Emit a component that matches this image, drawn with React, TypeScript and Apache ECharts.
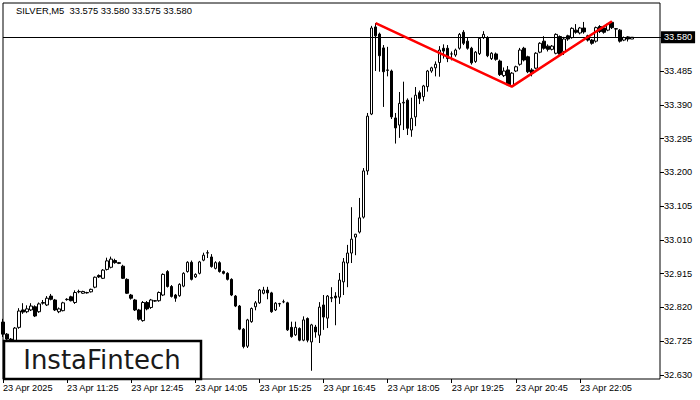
import React, { useEffect, useRef } from "react";
import * as echarts from "echarts";

const titleText = "SILVER,M5  33.575 33.580 33.575 33.580";
const logoText = "InstaFintech";
const lastPrice = 33.58;

const opens = [
  32.779, 32.745, 32.731, 32.722, 32.764, 32.813, 32.808, 32.813, 32.822, 32.808,
  32.832, 32.827, 32.852, 32.841, 32.808, 32.811, 32.842, 32.850, 32.834, 32.864,
  32.860, 32.862, 32.864, 32.877, 32.910, 32.902, 32.927, 32.933, 32.952, 32.946,
  32.936, 32.899, 32.855, 32.841, 32.813, 32.783, 32.834, 32.820, 32.839, 32.839,
  32.855, 32.921, 32.879, 32.855, 32.853, 32.880, 32.921, 32.947, 32.906, 32.916,
  32.953, 32.973, 32.962, 32.930, 32.946, 32.921, 32.916, 32.899, 32.852, 32.824,
  32.759, 32.711, 32.780, 32.822, 32.833, 32.860, 32.869, 32.861, 32.813, 32.830,
  32.836, 32.833, 32.764, 32.743, 32.761, 32.728, 32.789, 32.723, 32.765, 32.742,
  32.827, 32.790, 32.846, 32.852, 32.849, 32.892, 32.945, 32.973, 33.018, 33.032,
  33.074, 33.204, 33.364, 33.609, 33.589, 33.550, 33.488, 33.485, 33.353, 33.333,
  33.395, 33.403, 33.319, 33.356, 33.424, 33.413, 33.441, 33.485, 33.494, 33.509,
  33.549, 33.549, 33.533, 33.530, 33.549, 33.594, 33.569, 33.549, 33.512, 33.534,
  33.579, 33.579, 33.520, 33.533, 33.513, 33.472, 33.488, 33.443, 33.485, 33.504,
  33.549, 33.525, 33.488, 33.493, 33.538, 33.569, 33.555, 33.546, 33.535, 33.582,
  33.540, 33.584, 33.579, 33.600, 33.592, 33.606, 33.584, 33.572, 33.569, 33.610,
  33.606, 33.600, 33.622, 33.604, 33.600, 33.572, 33.581, 33.575,
];
const closes = [
  32.745, 32.731, 32.722, 32.762, 32.810, 32.807, 32.816, 32.824, 32.796, 32.830,
  32.834, 32.846, 32.843, 32.813, 32.816, 32.833, 32.843, 32.839, 32.862, 32.865,
  32.865, 32.861, 32.871, 32.905, 32.906, 32.925, 32.951, 32.956, 32.946, 32.944,
  32.902, 32.860, 32.846, 32.813, 32.787, 32.834, 32.816, 32.841, 32.838, 32.862,
  32.913, 32.879, 32.851, 32.846, 32.885, 32.916, 32.947, 32.899, 32.913, 32.948,
  32.967, 32.974, 32.935, 32.946, 32.921, 32.916, 32.899, 32.855, 32.824, 32.759,
  32.710, 32.785, 32.817, 32.833, 32.869, 32.869, 32.861, 32.808, 32.832, 32.831,
  32.836, 32.757, 32.738, 32.764, 32.728, 32.785, 32.728, 32.771, 32.751, 32.821,
  32.793, 32.852, 32.848, 32.847, 32.897, 32.948, 32.973, 33.012, 33.026, 33.072,
  33.204, 33.358, 33.606, 33.584, 33.528, 33.483, 33.487, 33.356, 33.325, 33.394,
  33.397, 33.324, 33.352, 33.417, 33.408, 33.443, 33.485, 33.494, 33.504, 33.544,
  33.541, 33.520, 33.533, 33.544, 33.588, 33.563, 33.549, 33.508, 33.538, 33.577,
  33.588, 33.528, 33.535, 33.518, 33.475, 33.485, 33.446, 33.479, 33.497, 33.544,
  33.516, 33.483, 33.479, 33.535, 33.563, 33.549, 33.546, 33.555, 33.588, 33.532,
  33.575, 33.575, 33.605, 33.594, 33.606, 33.595, 33.572, 33.563, 33.607, 33.596,
  33.594, 33.617, 33.607, 33.603, 33.569, 33.579, 33.575, 33.580,
];
const lows = [
  32.737, 32.724, 32.712, 32.716, 32.760, 32.802, 32.804, 32.810, 32.793, 32.805,
  32.828, 32.824, 32.840, 32.810, 32.804, 32.809, 32.839, 32.837, 32.830, 32.860,
  32.858, 32.859, 32.862, 32.874, 32.903, 32.900, 32.924, 32.930, 32.943, 32.942,
  32.900, 32.858, 32.842, 32.810, 32.783, 32.780, 32.812, 32.816, 32.836, 32.836,
  32.852, 32.876, 32.848, 32.836, 32.850, 32.877, 32.918, 32.896, 32.903, 32.913,
  32.950, 32.959, 32.932, 32.927, 32.918, 32.913, 32.896, 32.852, 32.821, 32.756,
  32.705, 32.706, 32.777, 32.812, 32.830, 32.857, 32.843, 32.805, 32.810, 32.822,
  32.832, 32.754, 32.735, 32.740, 32.725, 32.725, 32.722, 32.642, 32.735, 32.720,
  32.757, 32.762, 32.835, 32.770, 32.830, 32.855, 32.877, 32.945, 32.967, 33.028,
  33.070, 33.193, 33.361, 33.485, 33.483, 33.384, 33.470, 33.350, 33.281, 33.297,
  33.319, 33.305, 33.300, 33.330, 33.392, 33.400, 33.427, 33.480, 33.470, 33.469,
  33.520, 33.510, 33.515, 33.525, 33.545, 33.558, 33.545, 33.503, 33.508, 33.530,
  33.575, 33.524, 33.516, 33.514, 33.471, 33.468, 33.443, 33.441, 33.482, 33.500,
  33.512, 33.479, 33.470, 33.490, 33.535, 33.545, 33.540, 33.543, 33.532, 33.528,
  33.530, 33.570, 33.576, 33.590, 33.588, 33.590, 33.568, 33.559, 33.565, 33.592,
  33.590, 33.597, 33.603, 33.581, 33.565, 33.569, 33.568, 33.575,
];
const highs = [
  32.788, 32.748, 32.734, 32.765, 32.818, 32.832, 32.826, 32.832, 32.826, 32.834,
  32.841, 32.852, 32.858, 32.844, 32.820, 32.836, 32.846, 32.853, 32.868, 32.870,
  32.867, 32.864, 32.873, 32.907, 32.913, 32.928, 32.960, 32.963, 32.957, 32.948,
  32.940, 32.902, 32.858, 32.844, 32.816, 32.838, 32.838, 32.844, 32.841, 32.865,
  32.916, 32.925, 32.883, 32.858, 32.888, 32.919, 32.950, 32.952, 32.916, 32.951,
  32.974, 32.981, 32.970, 32.950, 32.950, 32.924, 32.919, 32.902, 32.855, 32.827,
  32.762, 32.788, 32.820, 32.838, 32.872, 32.878, 32.878, 32.864, 32.835, 32.833,
  32.842, 32.836, 32.780, 32.780, 32.764, 32.795, 32.792, 32.774, 32.771, 32.835,
  32.855, 32.855, 32.877, 32.863, 32.917, 32.959, 32.996, 33.102, 33.027, 33.128,
  33.212, 33.367, 33.612, 33.620, 33.593, 33.558, 33.553, 33.489, 33.367, 33.426,
  33.455, 33.408, 33.410, 33.440, 33.430, 33.446, 33.488, 33.497, 33.512, 33.555,
  33.560, 33.558, 33.540, 33.548, 33.592, 33.600, 33.580, 33.553, 33.541, 33.580,
  33.597, 33.583, 33.538, 33.537, 33.517, 33.495, 33.499, 33.482, 33.500, 33.550,
  33.553, 33.528, 33.493, 33.538, 33.566, 33.583, 33.560, 33.558, 33.591, 33.585,
  33.581, 33.587, 33.608, 33.617, 33.609, 33.623, 33.587, 33.575, 33.610, 33.614,
  33.609, 33.620, 33.625, 33.606, 33.603, 33.582, 33.583, 33.580,
];

const xTickIndexes = [0, 16, 32, 48, 64, 80, 96, 112, 128, 144];
const xTickLabels = [
  "23 Apr 2025", "23 Apr 11:25", "23 Apr 12:45", "23 Apr 14:05", "23 Apr 15:25",
  "23 Apr 16:45", "23 Apr 18:05", "23 Apr 19:25", "23 Apr 20:45", "23 Apr 22:05",
];
const yTickValues = [32.63, 32.725, 32.82, 32.915, 33.01, 33.105, 33.2, 33.295, 33.39, 33.485, 33.58];

const patternIdx = [93, 127, 152];
const patternVal = [33.62, 33.441, 33.625];

const slotCount = 165;
const categories = Array.from({ length: slotCount }, (_, i) => {
  const m = 10 * 60 + 5 + i * 5;
  const hh = String(Math.floor(m / 60) % 24).padStart(2, "0");
  const mm = String(m % 60).padStart(2, "0");
  return `23 Apr ${hh}:${mm}`;
});

const FONT = "Liberation Sans";

export default function App() {
  const ref = useRef<HTMLDivElement>(null);
  useEffect(() => {
    if (!ref.current) return;
    const chart = echarts.init(ref.current, undefined, { renderer: "svg" });
    const candleData = opens.map((o, i) => [o, closes[i], lows[i], highs[i]]);
    chart.setOption({
      animation: false,
      backgroundColor: "#fff",
      title: {
        text: titleText,
        left: 16,
        top: 6,
        padding: 0,
        textStyle: { fontSize: 9.4, fontWeight: "normal", color: "#000", fontFamily: FONT },
      },
      grid: {
        left: 3,
        right: 40,
        top: 3,
        bottom: 21,
        show: true,
        borderColor: "#000",
        borderWidth: 1,
        backgroundColor: "#fff",
      },
      xAxis: {
        type: "category",
        data: categories,
        boundaryGap: false,
        axisLine: { show: false },
        splitLine: { show: false },
        axisTick: {
          show: true,
          length: 4,
          interval: (index: number) => xTickIndexes.includes(index),
          lineStyle: { color: "#000" },
        },
        axisLabel: {
          interval: (index: number) => xTickIndexes.includes(index),
          formatter: (_v: string, index: number) => {
            const k = xTickIndexes.indexOf(index);
            return k >= 0 ? xTickLabels[k] : "";
          },
          align: "left",
          margin: 4,
          color: "#000",
          fontSize: 9.2,
          fontFamily: FONT,
        },
      },
      yAxis: {
        type: "value",
        position: "right",
        min: 32.6188,
        max: 33.6763,
        scale: true,
        splitLine: { show: false },
        axisLine: { show: false },
        axisTick: {
          show: true,
          length: 4,
          customValues: yTickValues,
          lineStyle: { color: "#000" },
        },
        axisLabel: {
          customValues: yTickValues.filter((v) => v !== lastPrice),
          formatter: (v: number) => v.toFixed(3),
          margin: 4,
          color: "#000",
          fontSize: 9.2,
          fontFamily: FONT,
        },
      },
      series: [
        {
          type: "candlestick",
          data: candleData,
          barWidth: 3,
          itemStyle: {
            color: "#fff",
            color0: "#000",
            borderColor: "#000",
            borderColor0: "#000",
            borderWidth: 1,
          },
          markLine: {
            silent: true,
            symbol: ["none", "none"],
            data: [{ yAxis: lastPrice }],
            lineStyle: { color: "#000", width: 1, type: "solid" },
            label: {
              show: true,
              position: "end",
              distance: 1,
              formatter: lastPrice.toFixed(3),
              color: "#fff",
              backgroundColor: "#000",
              padding: [2, 3, 1, 3],
              fontSize: 9.2,
              fontFamily: FONT,
            },
          },
        },
        {
          type: "line",
          data: patternIdx.map((x, i) => [x, patternVal[i]]),
          symbol: "none",
          lineStyle: { color: "#ff0000", width: 2.5 },
          z: 5,
        },
      ],
      graphic: [
        {
          type: "rect",
          z: 100,
          shape: { x: 4, y: 341, width: 197, height: 38 },
          style: { fill: "#fff", stroke: "#000", lineWidth: 2.5 },
        },
        {
          type: "text",
          z: 101,
          x: 102,
          y: 360,
          style: {
            text: logoText,
            fontSize: 26,
            fontFamily: "DejaVu Sans",
            fill: "#1a1a1a",
            align: "center",
            verticalAlign: "middle",
          },
        },
      ],
    });
    return () => chart.dispose();
  }, []);
  return (
    <div
      ref={ref}
      style={{ position: "fixed", left: 0, top: 0, width: 700, height: 400 }}
    />
  );
}
